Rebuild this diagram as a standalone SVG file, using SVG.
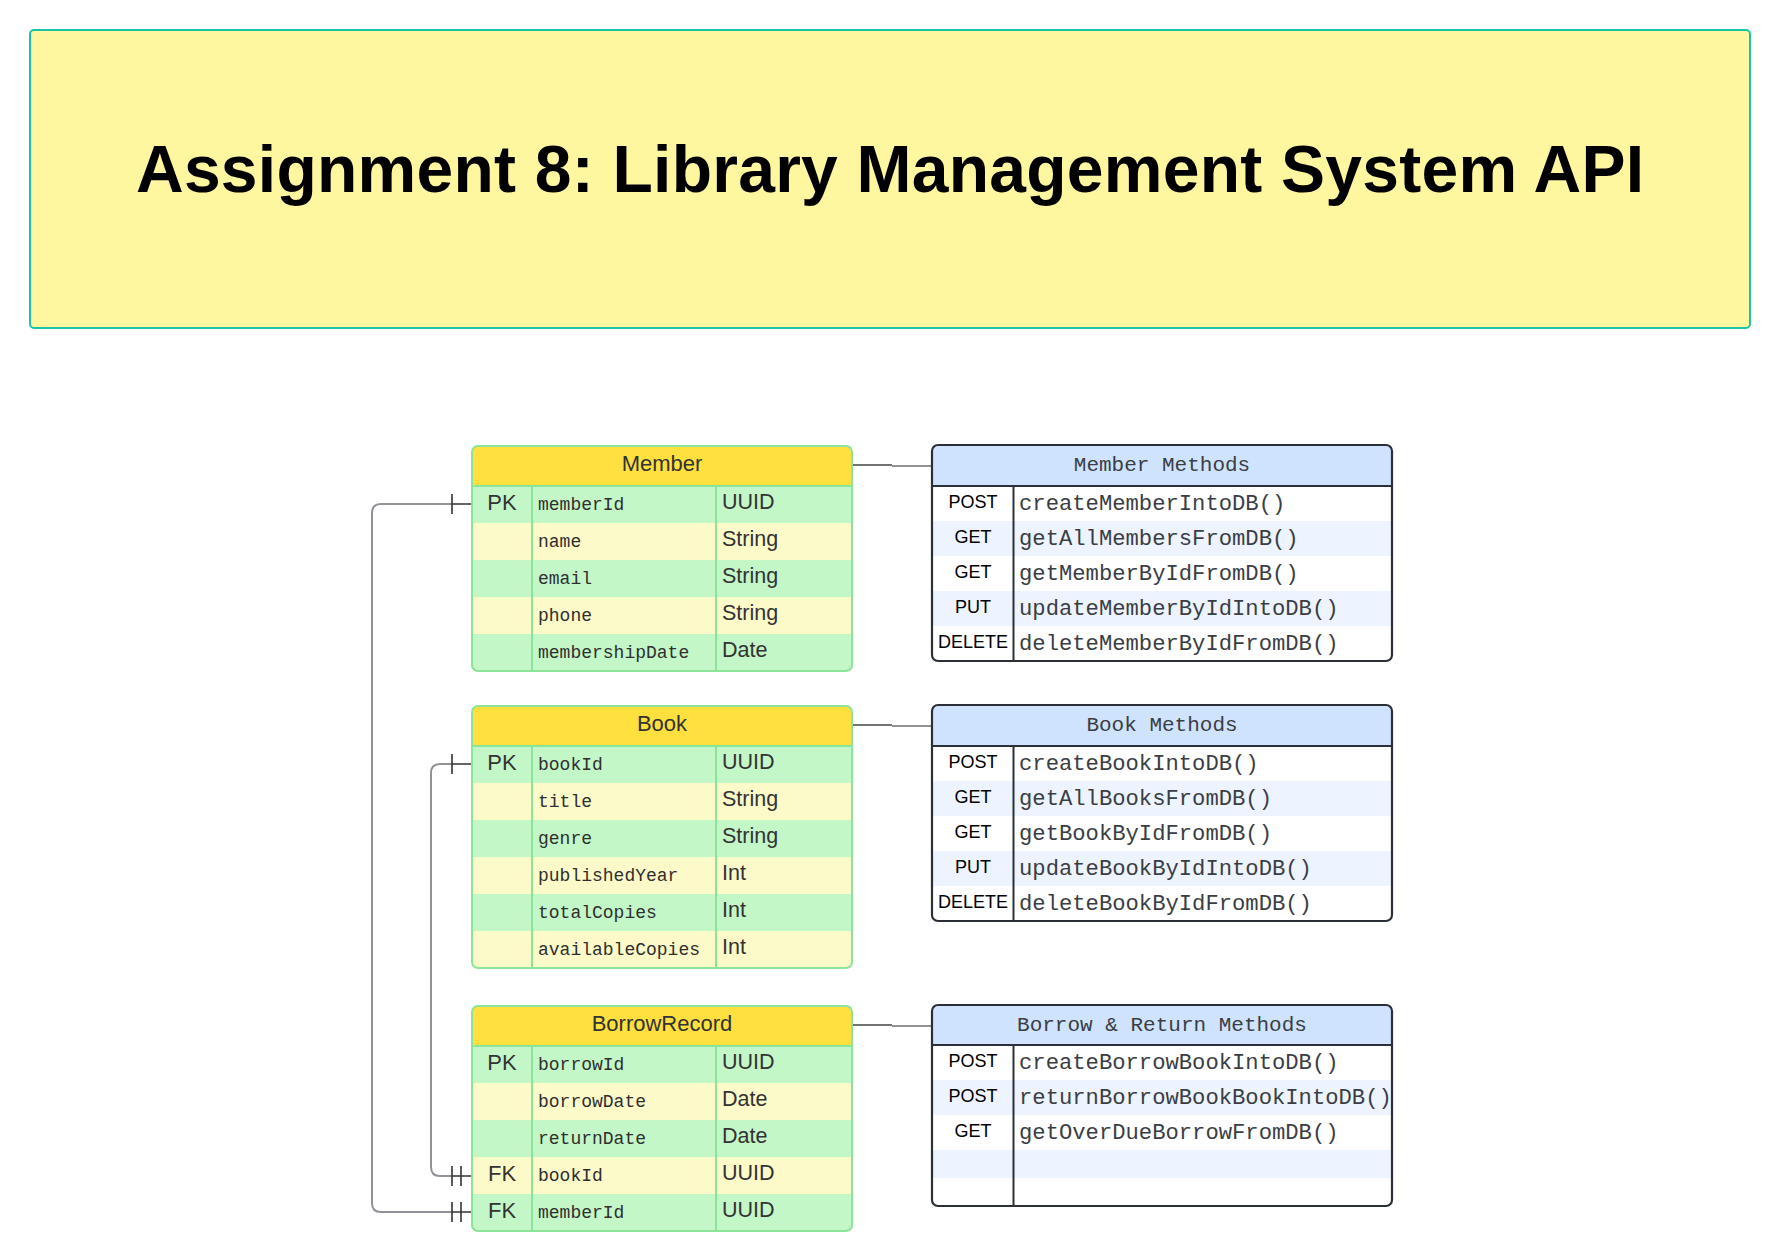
<svg xmlns="http://www.w3.org/2000/svg" width="1785" height="1259" viewBox="0 0 1785 1259">
<style>
.title{font-family:"Liberation Sans",Arial,sans-serif;font-weight:bold;font-size:66px;fill:#000}
.eh{font-family:"Liberation Sans",Arial,sans-serif;font-size:22px;fill:#333;text-anchor:middle}
.key{font-family:"Liberation Sans",Arial,sans-serif;font-size:22px;fill:#333;text-anchor:middle}
.fld{font-family:"Liberation Mono","Courier New",monospace;font-size:18px;fill:#2f2f2f}
.typ{font-family:"Liberation Sans",Arial,sans-serif;font-size:21.5px;fill:#333}
.mh{font-family:"Liberation Mono","Courier New",monospace;font-size:21px;fill:#3a3e44;text-anchor:middle}
.verb{font-family:"Liberation Sans",Arial,sans-serif;font-size:18px;fill:#000;text-anchor:middle}
.fn{font-family:"Liberation Mono","Courier New",monospace;font-size:22.2px;fill:#3a3e44}
.g{fill:#C3F7C8}.y{fill:#FDFAC9}.hy{fill:#FFE03F}
.eb{fill:none;stroke:#8BE49A;stroke-width:2}
.el{stroke:#8BE49A;stroke-width:2}
.w{fill:#FFFFFF}.b{fill:#EDF4FF}.hb{fill:#CFE3FF}
.mb{fill:none;stroke:#2B3038;stroke-width:2.2}
.ml{stroke:#2B3038;stroke-width:2}
.cg{fill:none;stroke:#8F9297;stroke-width:2}
.cd{fill:none;stroke:#333;stroke-width:1.6}
</style>
<defs>
<clipPath id="cMember"><rect x="472" y="446" width="380" height="225" rx="6"/></clipPath>
<clipPath id="cBook"><rect x="472" y="706" width="380" height="262" rx="6"/></clipPath>
<clipPath id="cBorrow"><rect x="472" y="1006" width="380" height="225" rx="6"/></clipPath>
<clipPath id="cMM"><rect x="932" y="445" width="460" height="216" rx="6"/></clipPath>
<clipPath id="cBM"><rect x="932" y="705" width="460" height="216" rx="6"/></clipPath>
<clipPath id="cRM"><rect x="932" y="1005" width="460" height="201" rx="6"/></clipPath>
</defs>
<rect width="1785" height="1259" fill="#fff"/>

<g id="title">
<rect x="30" y="30" width="1720" height="298" rx="4" fill="#FFF6A0" stroke="#1BC3A6" stroke-width="2"/>
<text class="title" x="890" y="192" text-anchor="middle" textLength="1508" lengthAdjust="spacing">Assignment 8: Library Management System API</text>
</g>

<g id="connectors">
<line x1="852" y1="465" x2="892" y2="465" stroke="#444" stroke-width="1.6"/>
<line x1="892" y1="466" x2="932" y2="466" stroke="#8F9297" stroke-width="2"/>
<line x1="852" y1="725" x2="892" y2="725" stroke="#444" stroke-width="1.6"/>
<line x1="892" y1="726" x2="932" y2="726" stroke="#8F9297" stroke-width="2"/>
<line x1="852" y1="1025" x2="892" y2="1025" stroke="#444" stroke-width="1.6"/>
<line x1="892" y1="1026" x2="932" y2="1026" stroke="#8F9297" stroke-width="2"/>
<path class="cg" d="M452 504 H381 Q372 504 372 513 V1203 Q372 1212 381 1212 H452"/>
<path class="cd" d="M452 504 H472 M452 494 V514 M452 1212 H472 M452 1202 V1222 M461 1202 V1222"/>
<path class="cg" d="M452 764 H440 Q431 764 431 773 V1167 Q431 1176 440 1176 H452"/>
<path class="cd" d="M452 764 H472 M452 754 V774 M452 1176 H472 M452 1166 V1186 M461 1166 V1186"/>
</g>

<g id="member">
<g clip-path="url(#cMember)">
<rect class="hy" x="472" y="446" width="380" height="40"/>
<rect class="g" x="472" y="486" width="380" height="37"/>
<rect class="y" x="472" y="523" width="380" height="37"/>
<rect class="g" x="472" y="560" width="380" height="37"/>
<rect class="y" x="472" y="597" width="380" height="37"/>
<rect class="g" x="472" y="634" width="380" height="37"/>
</g>
<line class="el" x1="472" y1="486" x2="852" y2="486"/>
<line class="el" x1="532" y1="486" x2="532" y2="671"/>
<line class="el" x1="716" y1="486" x2="716" y2="671"/>
<rect class="eb" x="472" y="446" width="380" height="225" rx="6"/>
<text class="eh" x="662" y="471">Member</text>
<text class="key" x="502" y="510">PK</text>
<text class="fld" x="538" y="510">memberId</text><text class="typ" x="722" y="509">UUID</text>
<text class="fld" x="538" y="547">name</text><text class="typ" x="722" y="546">String</text>
<text class="fld" x="538" y="584">email</text><text class="typ" x="722" y="583">String</text>
<text class="fld" x="538" y="621">phone</text><text class="typ" x="722" y="620">String</text>
<text class="fld" x="538" y="658">membershipDate</text><text class="typ" x="722" y="657">Date</text>
</g>

<g id="book">
<g clip-path="url(#cBook)">
<rect class="hy" x="472" y="706" width="380" height="40"/>
<rect class="g" x="472" y="746" width="380" height="37"/>
<rect class="y" x="472" y="783" width="380" height="37"/>
<rect class="g" x="472" y="820" width="380" height="37"/>
<rect class="y" x="472" y="857" width="380" height="37"/>
<rect class="g" x="472" y="894" width="380" height="37"/>
<rect class="y" x="472" y="931" width="380" height="37"/>
</g>
<line class="el" x1="472" y1="746" x2="852" y2="746"/>
<line class="el" x1="532" y1="746" x2="532" y2="968"/>
<line class="el" x1="716" y1="746" x2="716" y2="968"/>
<rect class="eb" x="472" y="706" width="380" height="262" rx="6"/>
<text class="eh" x="662" y="731">Book</text>
<text class="key" x="502" y="770">PK</text>
<text class="fld" x="538" y="770">bookId</text><text class="typ" x="722" y="769">UUID</text>
<text class="fld" x="538" y="807">title</text><text class="typ" x="722" y="806">String</text>
<text class="fld" x="538" y="844">genre</text><text class="typ" x="722" y="843">String</text>
<text class="fld" x="538" y="881">publishedYear</text><text class="typ" x="722" y="880">Int</text>
<text class="fld" x="538" y="918">totalCopies</text><text class="typ" x="722" y="917">Int</text>
<text class="fld" x="538" y="955">availableCopies</text><text class="typ" x="722" y="954">Int</text>
</g>

<g id="borrowRecord">
<g clip-path="url(#cBorrow)">
<rect class="hy" x="472" y="1006" width="380" height="40"/>
<rect class="g" x="472" y="1046" width="380" height="37"/>
<rect class="y" x="472" y="1083" width="380" height="37"/>
<rect class="g" x="472" y="1120" width="380" height="37"/>
<rect class="y" x="472" y="1157" width="380" height="37"/>
<rect class="g" x="472" y="1194" width="380" height="37"/>
</g>
<line class="el" x1="472" y1="1046" x2="852" y2="1046"/>
<line class="el" x1="532" y1="1046" x2="532" y2="1231"/>
<line class="el" x1="716" y1="1046" x2="716" y2="1231"/>
<rect class="eb" x="472" y="1006" width="380" height="225" rx="6"/>
<text class="eh" x="662" y="1031">BorrowRecord</text>
<text class="key" x="502" y="1070">PK</text>
<text class="fld" x="538" y="1070">borrowId</text><text class="typ" x="722" y="1069">UUID</text>
<text class="fld" x="538" y="1107">borrowDate</text><text class="typ" x="722" y="1106">Date</text>
<text class="fld" x="538" y="1144">returnDate</text><text class="typ" x="722" y="1143">Date</text>
<text class="key" x="502" y="1181">FK</text>
<text class="fld" x="538" y="1181">bookId</text><text class="typ" x="722" y="1180">UUID</text>
<text class="key" x="502" y="1218">FK</text>
<text class="fld" x="538" y="1218">memberId</text><text class="typ" x="722" y="1217">UUID</text>
</g>

<g id="memberMethods">
<g clip-path="url(#cMM)">
<rect class="hb" x="932" y="445" width="460" height="41"/>
<rect class="w" x="932" y="486" width="460" height="35"/>
<rect class="b" x="932" y="521" width="460" height="35"/>
<rect class="w" x="932" y="556" width="460" height="35"/>
<rect class="b" x="932" y="591" width="460" height="35"/>
<rect class="w" x="932" y="626" width="460" height="35"/>
</g>
<line class="ml" x1="932" y1="486" x2="1392" y2="486"/>
<line class="ml" x1="1013.5" y1="486" x2="1013.5" y2="661"/>
<rect class="mb" x="932" y="445" width="460" height="216" rx="6"/>
<text class="mh" x="1162" y="471">Member Methods</text>
<text class="verb" x="973" y="508">POST</text><text class="fn" x="1019" y="510">createMemberIntoDB()</text>
<text class="verb" x="973" y="543">GET</text><text class="fn" x="1019" y="545">getAllMembersFromDB()</text>
<text class="verb" x="973" y="578">GET</text><text class="fn" x="1019" y="580">getMemberByIdFromDB()</text>
<text class="verb" x="973" y="613">PUT</text><text class="fn" x="1019" y="615">updateMemberByIdIntoDB()</text>
<text class="verb" x="973" y="648">DELETE</text><text class="fn" x="1019" y="650">deleteMemberByIdFromDB()</text>
</g>

<g id="bookMethods">
<g clip-path="url(#cBM)">
<rect class="hb" x="932" y="705" width="460" height="41"/>
<rect class="w" x="932" y="746" width="460" height="35"/>
<rect class="b" x="932" y="781" width="460" height="35"/>
<rect class="w" x="932" y="816" width="460" height="35"/>
<rect class="b" x="932" y="851" width="460" height="35"/>
<rect class="w" x="932" y="886" width="460" height="35"/>
</g>
<line class="ml" x1="932" y1="746" x2="1392" y2="746"/>
<line class="ml" x1="1013.5" y1="746" x2="1013.5" y2="921"/>
<rect class="mb" x="932" y="705" width="460" height="216" rx="6"/>
<text class="mh" x="1162" y="731">Book Methods</text>
<text class="verb" x="973" y="768">POST</text><text class="fn" x="1019" y="770">createBookIntoDB()</text>
<text class="verb" x="973" y="803">GET</text><text class="fn" x="1019" y="805">getAllBooksFromDB()</text>
<text class="verb" x="973" y="838">GET</text><text class="fn" x="1019" y="840">getBookByIdFromDB()</text>
<text class="verb" x="973" y="873">PUT</text><text class="fn" x="1019" y="875">updateBookByIdIntoDB()</text>
<text class="verb" x="973" y="908">DELETE</text><text class="fn" x="1019" y="910">deleteBookByIdFromDB()</text>
</g>

<g id="borrowMethods">
<g clip-path="url(#cRM)">
<rect class="hb" x="932" y="1005" width="460" height="40"/>
<rect class="w" x="932" y="1045" width="460" height="35"/>
<rect class="b" x="932" y="1080" width="460" height="35"/>
<rect class="w" x="932" y="1115" width="460" height="35"/>
<rect class="b" x="932" y="1150" width="460" height="28"/>
<rect class="w" x="932" y="1178" width="460" height="28"/>
</g>
<line class="ml" x1="932" y1="1045" x2="1392" y2="1045"/>
<line class="ml" x1="1013.5" y1="1045" x2="1013.5" y2="1206"/>
<rect class="mb" x="932" y="1005" width="460" height="201" rx="6"/>
<text class="mh" x="1162" y="1031">Borrow &amp; Return Methods</text>
<text class="verb" x="973" y="1067">POST</text><text class="fn" x="1019" y="1069">createBorrowBookIntoDB()</text>
<text class="verb" x="973" y="1102">POST</text><text class="fn" x="1019" y="1104">returnBorrowBookBookIntoDB()</text>
<text class="verb" x="973" y="1137">GET</text><text class="fn" x="1019" y="1139">getOverDueBorrowFromDB()</text>
</g>
</svg>
